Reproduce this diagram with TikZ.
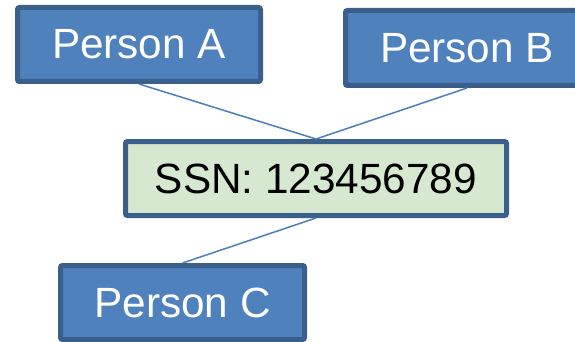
\documentclass[tikz,border=0pt]{standalone}
\usepackage{fontspec}
\setmainfont{Liberation Sans}
\definecolor{personfill}{HTML}{4F81BD}
\definecolor{boxedge}{HTML}{3A5F8B}
\definecolor{ssnfill}{HTML}{D7E8D0}
\definecolor{linkblue}{HTML}{4A7EBB}
\begin{document}
\begin{tikzpicture}[x=1pt,y=-1pt,
  entity/.style={draw=boxedge, line width=5pt, rounded corners=2pt,
    inner sep=0pt, minimum height=74pt,
    font=\fontsize{42.3}{50}\selectfont},
  person/.style={entity, fill=personfill, text=white, minimum width=243pt},
  ssnbox/.style={entity, fill=ssnfill, text=black, minimum width=381pt},
  link/.style={draw=linkblue, line width=1.5pt}]
  \useasboundingbox (0,0) rectangle (575,342);
  \clip (0,0) rectangle (575,342);
  \node[person] (pa) at (139,44.5) {Person A};
  \node[person, minimum height=75pt] (pb) at (467,48) {Person B};
  \node[ssnbox] (ssn) at (316,178.5) {SSN: 123456789};
  \node[person, minimum width=244pt] (pc) at (182.5,302.5) {Person C};
  \draw[link] (pa.south) -- (ssn.north);
  \draw[link] (pb.south) -- (ssn.north);
  \draw[link] (ssn.south) -- (pc.north);
\end{tikzpicture}
\end{document}
